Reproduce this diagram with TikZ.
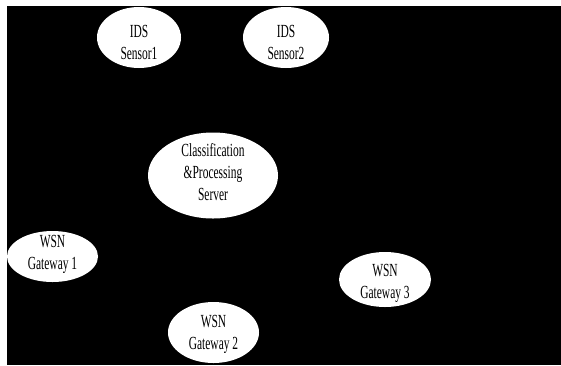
\documentclass[tikz,border=0pt]{standalone}
\usepackage{fontspec}
\setmainfont{Liberation Serif}
\usetikzlibrary{shapes.geometric}
\newcommand{\nodetext}[1]{\scalebox{0.62}[1]{\fontsize{18.5}{21.7}\selectfont\begin{tabular}{@{}c@{}}#1\end{tabular}}}
\tikzset{
  blob/.style={ellipse, fill=white, draw=none, inner sep=0pt},
  lbl/.style={inner sep=0pt, text=black}
}
\begin{document}
\begin{tikzpicture}[x=1pt,y=-1pt]
\useasboundingbox (0,0) rectangle (561,365);
\fill[white] (0,0) rectangle (561,365);
\fill[black] (7,6) rectangle (561,365);
\node[blob, minimum width=84pt, minimum height=61pt] (s1) at (139,37.5) {};
\node[lbl] (s1t) at (139,44) {\nodetext{IDS\\Sensor1}};
\node[blob, minimum width=86pt, minimum height=61pt] (s2) at (286,37.5) {};
\node[lbl] (s2t) at (286,44) {\nodetext{IDS\\Sensor2}};
\node[blob, minimum width=130pt, minimum height=86pt] (srv) at (213,175.5) {};
\node[lbl] (srvt) at (213,174) {\nodetext{Classification\\\&Processing\\Server}};
\node[blob, minimum width=91pt, minimum height=51pt] (g1) at (52.5,256.5) {};
\node[lbl] (g1t) at (52.5,254) {\nodetext{WSN\\Gateway 1}};
\node[blob, minimum width=91pt, minimum height=61pt] (g2) at (213.5,332.5) {};
\node[lbl] (g2t) at (213.5,334) {\nodetext{WSN\\Gateway 2}};
\node[blob, minimum width=92pt, minimum height=55pt] (g3) at (385,279.5) {};
\node[lbl] (g3t) at (385,283) {\nodetext{WSN\\Gateway 3}};
\end{tikzpicture}
\end{document}
